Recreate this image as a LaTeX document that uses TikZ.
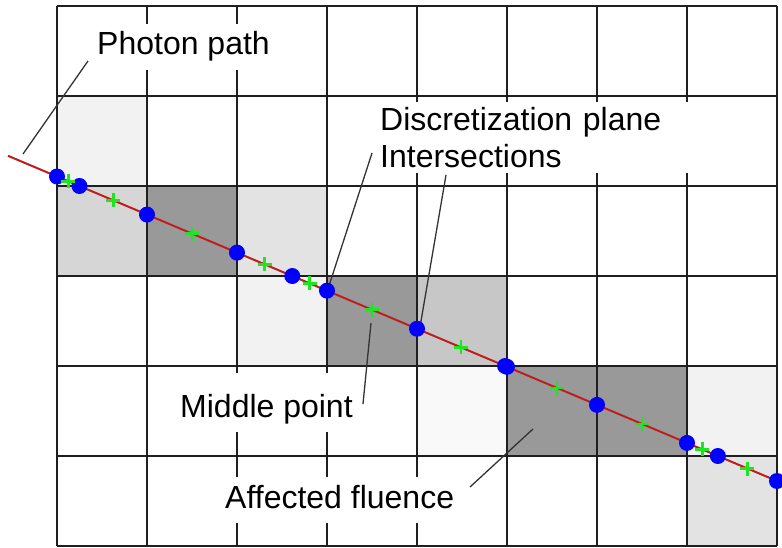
\documentclass[tikz,border=0pt]{standalone}
\usepackage{fontspec}
\setmainfont{Liberation Sans}
\usetikzlibrary{calc}
\definecolor{cellpale}{gray}{0.95}
\definecolor{cellfaint}{gray}{0.975}
\definecolor{celllight}{gray}{0.89}
\definecolor{cellmid}{gray}{0.84}
\definecolor{cellgrey}{gray}{0.78}
\definecolor{celldark}{gray}{0.60}
\definecolor{hitblue}{rgb}{0,0,1}
\definecolor{midgreen}{RGB}{30,230,30}
\newcommand{\tagfont}{\fontsize{32}{37}\selectfont}

\begin{document}
\begin{tikzpicture}[
    x=1pt, y=-1pt,
    gridline/.style={line width=2.6pt, draw=black!88},
    tag/.style={
      fill=white, font=\tagfont, inner xsep=6pt, inner ysep=8pt,
      text height=23pt, text depth=7pt, anchor=base west
    },
    tagblock/.style={
      fill=white, font=\tagfont, inner xsep=10pt, inner ysep=5pt,
      text width=300pt, align=left, anchor=north west
    },
    leader/.style={draw=black!80, line width=1.3pt},
    hit/.style={fill=hitblue},
    mid/.style={draw=midgreen, line width=2.6pt},
  ]
    \useasboundingbox (0,0) rectangle (782,548);

    % cells crossed by the photon
    \foreach \c/\r/\shade in {0/1/cellpale, 0/2/cellmid, 1/2/celldark, 2/2/celllight,
        2/3/cellpale, 3/3/celldark, 4/3/cellgrey, 4/4/cellfaint, 5/4/celldark,
        6/4/celldark, 7/4/cellpale, 7/5/celllight}
      \fill[\shade] ({57+90*\c},{6+90*\r}) rectangle ++(90,90);

    % voxel grid
    \foreach \c in {0,...,8}
      \draw[gridline] ({57+90*\c},6) -- ({57+90*\c},546);
    \foreach \r in {0,...,6}
      \draw[gridline] (57,{6+90*\r}) -- (777,{6+90*\r});

    % labels
    \node[tag] (photon) at (91,55) {Photon path};
    \node[tagblock] (plane) at (370,102) {Discretization plane\\Intersections};
    \node[tag, text height=36pt] (middle) at (174,417) {Middle point};
    \node[tag] (fluence) at (219,508) {Affected fluence};

    \coordinate (photonA) at (88,61);
    \coordinate (photonB) at (23,154);
    \coordinate (planeA) at (372,153);
    \coordinate (planeB) at (327,292);
    \coordinate (planeC) at (446,175);
    \coordinate (planeD) at (420,327);
    \coordinate (middleA) at (363,404);
    \coordinate (middleB) at (371,323);
    \coordinate (fluenceA) at (470,487);
    \coordinate (fluenceB) at (533,429);

    \draw[leader] (photonA) -- (photonB);
    \draw[leader] (planeA) -- (planeB);
    \draw[leader] (planeC) -- (planeD);
    \draw[leader] (middleA) -- (middleB);
    \draw[leader] (fluenceA) -- (fluenceB);

    % photon path
    \coordinate (start) at (8,155.8);
    \coordinate (end) at (782,483.1);
    \coordinate (P0) at (57,176.5);
    \coordinate (P1) at (777,481);
    \draw[black!65, line width=2pt] (start) -- (end);
    \draw[red, line width=1.2pt] (start) -- (end);

    % plane intersections
    \foreach \t in {0,0.125,...,1,0.0312,0.3268,0.6223,0.9179}
      \fill[hit] ($(P0)!\t!(P1)$) circle (8);

    % middle points
    \foreach \t in {0.0156,0.0781,0.1875,0.2884,0.3509,0.4375,0.5611,
        0.6944,0.8125,0.8965,0.9590}
      \draw[mid] ($(P0)!\t!(P1)$) +(-7,0) -- +(7,0) +(0,-7) -- +(0,7);
  \end{tikzpicture}
\end{document}
